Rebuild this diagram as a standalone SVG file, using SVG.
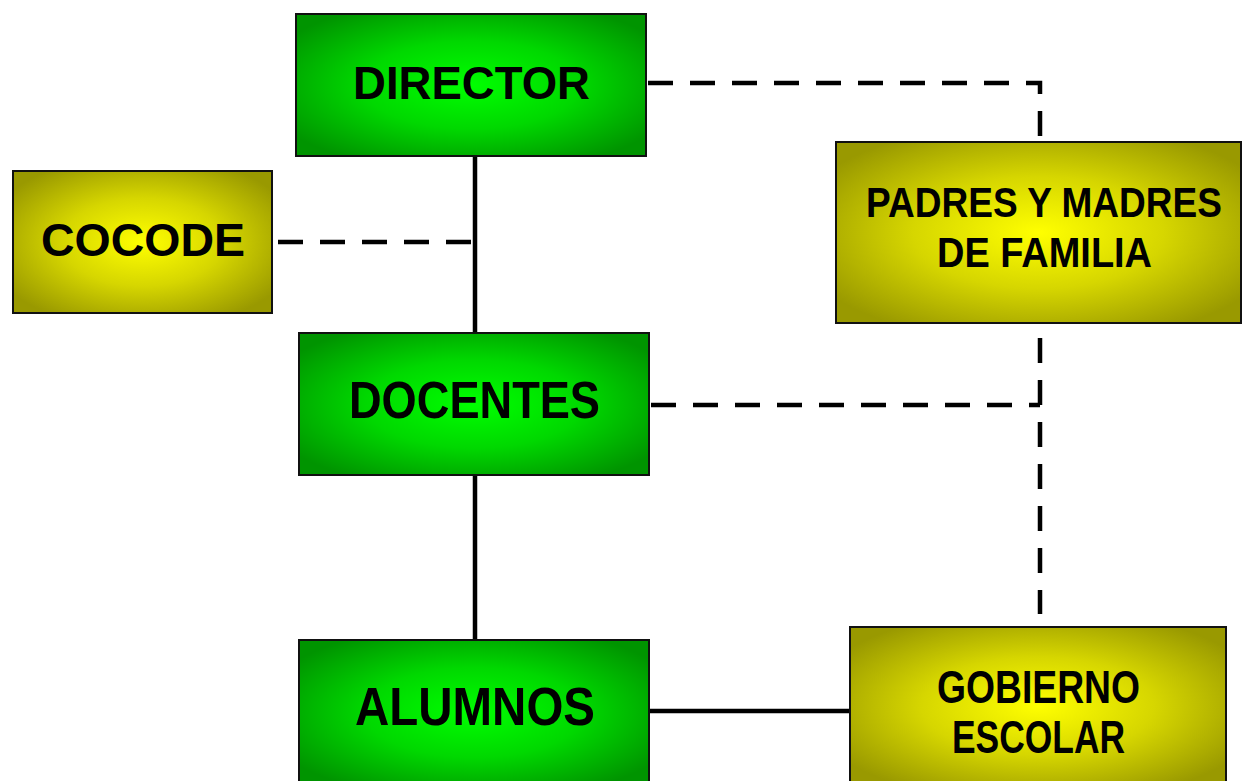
<svg xmlns="http://www.w3.org/2000/svg" width="1242" height="781" viewBox="0 0 1242 781">
<defs>
<radialGradient id="gGreen" cx="0.5" cy="0.5" r="0.62">
<stop offset="0" stop-color="#00ff00"/>
<stop offset="0.5" stop-color="#00d800"/>
<stop offset="1" stop-color="#009400"/>
</radialGradient>
<radialGradient id="gYellow" cx="0.5" cy="0.5" r="0.62">
<stop offset="0" stop-color="#ffff00"/>
<stop offset="0.5" stop-color="#d6d600"/>
<stop offset="1" stop-color="#999900"/>
</radialGradient>
<style>
.green{fill:url(#gGreen);stroke:#111;stroke-width:2}
.yellow{fill:url(#gYellow);stroke:#111;stroke-width:2}
.lbl{font-family:"Liberation Sans","DejaVu Sans",sans-serif;font-weight:bold;font-size:46px;fill:#000;text-anchor:start}
.solid{stroke:#000;stroke-width:4.5;fill:none}
.dash{stroke:#000;stroke-width:4.5;fill:none;stroke-dasharray:25 17}
</style>
</defs>
<rect width="1242" height="781" fill="#fff"/>
<g id="connectors">
<line class="solid" x1="475" y1="156" x2="475" y2="333"/>
<line class="solid" x1="475" y1="475" x2="475" y2="640"/>
<line class="solid" x1="649" y1="711" x2="850" y2="711"/>
<line class="dash" x1="278" y1="242" x2="472" y2="242"/>
<polyline class="dash" points="648,83 1040,83 1040,142"/>
<polyline class="dash" points="651,405 1040,405"/>
<line class="dash" x1="1040" y1="338" x2="1040" y2="614"/>
</g>
<g id="director">
<rect class="green" x="296" y="14" width="350" height="142"/>
<text class="lbl" x="353" y="99" textLength="237" lengthAdjust="spacingAndGlyphs">DIRECTOR</text>
</g>
<g id="cocode">
<rect class="yellow" x="13" y="171" width="259" height="142"/>
<text class="lbl" x="41" y="256" textLength="204" lengthAdjust="spacingAndGlyphs">COCODE</text>
</g>
<g id="padres">
<rect class="yellow" x="836" y="142" width="405" height="181"/>
<text class="lbl" style="font-size:42px" x="866" y="217" textLength="356" lengthAdjust="spacingAndGlyphs">PADRES Y MADRES</text>
<text class="lbl" style="font-size:42px" x="937" y="267" textLength="215" lengthAdjust="spacingAndGlyphs">DE FAMILIA</text>
</g>
<g id="docentes">
<rect class="green" x="299" y="333" width="350" height="142"/>
<text class="lbl" style="font-size:52px" x="349" y="418" textLength="251" lengthAdjust="spacingAndGlyphs">DOCENTES</text>
</g>
<g id="alumnos">
<rect class="green" x="299" y="640" width="350" height="145"/>
<text class="lbl" style="font-size:54px" x="355" y="725" textLength="240" lengthAdjust="spacingAndGlyphs">ALUMNOS</text>
</g>
<g id="gobierno">
<rect class="yellow" x="850" y="627" width="376" height="158"/>
<text class="lbl" x="937" y="703" textLength="203" lengthAdjust="spacingAndGlyphs">GOBIERNO</text>
<text class="lbl" x="952" y="753" textLength="173" lengthAdjust="spacingAndGlyphs">ESCOLAR</text>
</g>
</svg>
